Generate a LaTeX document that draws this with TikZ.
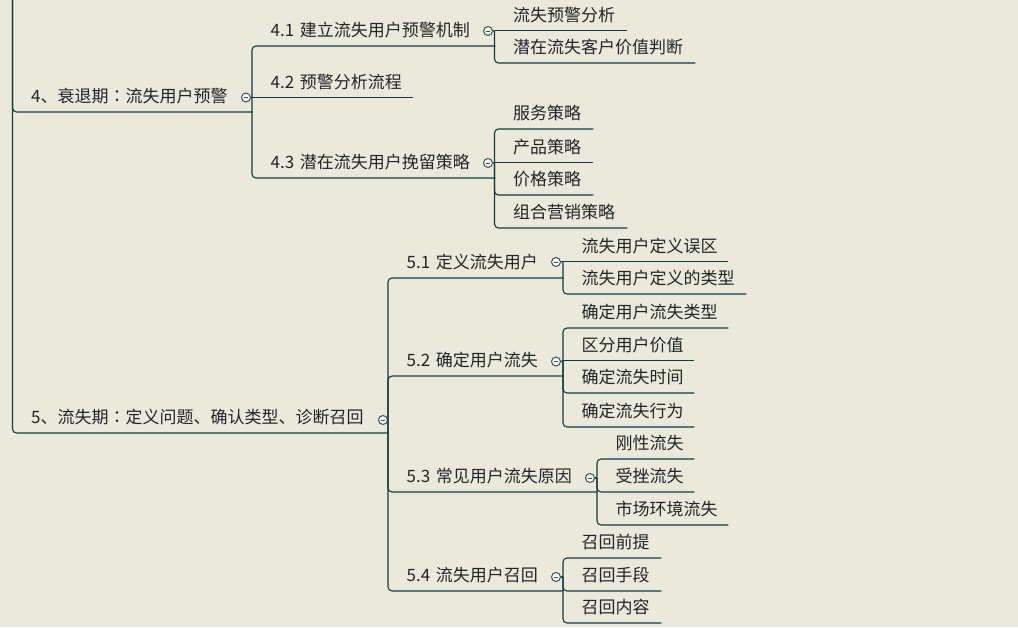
\documentclass[tikz,border=0pt]{standalone}
\usepackage{fontspec}
\setmainfont{Noto Sans CJK SC}
\newfontfamily\colonfont{Noto Sans CJK JP}
\newcommand{\fwcolon}{{\colonfont ：}}
\usetikzlibrary{calc}

\definecolor{paper}{HTML}{EBE8DC}
\definecolor{branch}{HTML}{123C3C}
\definecolor{ink}{HTML}{1F2626}
\definecolor{foldgray}{HTML}{3E5454}

\begin{document}
\begin{tikzpicture}[x=1pt, y=-1pt,
        topic/.style={anchor=south west, inner xsep=0pt, inner ysep=9.2pt, text depth=0pt,
            align=left, text=ink, font=\fontsize{17}{20}\selectfont,
            execute at begin node={\hspace*{18.5pt}}},
        link/.style={draw=branch, line width=1.1pt, rounded corners=4pt},
        fold/.style={circle, draw=foldgray, fill=paper!40!white, line width=1pt,
            minimum size=9pt, inner sep=0pt,
            path picture={\draw[foldgray, line width=1pt]
                ([xshift=2.2pt]path picture bounding box.west) --
                ([xshift=-2.2pt]path picture bounding box.east);}}]

    \fill[paper] (0,0) rectangle (1018,627);
    \useasboundingbox (0,0) rectangle (1018,627);
    \clip (0,0) rectangle (1018,627);

    % stage 4
    \node[topic, text width=239.5pt] (t4) at (12.5,112) {4、衰退期\fwcolon 流失用户预警};
    \node[topic, text width=243pt] (t41) at (252,46) {4.1 建立流失用户预警机制};
    \node[topic, text width=161pt] (t42) at (252,97.5) {4.2 预警分析流程};
    \node[topic, text width=243pt] (t43) at (252,178) {4.3 潜在流失用户挽留策略};

    \node[topic, text width=132.5pt] (t411) at (494.5,30.5) {流失预警分析};
    \node[topic, text width=200.5pt] (t412) at (494.5,63) {潜在流失客户价值判断};

    \node[topic, text width=98.5pt] (t431) at (494.5,129) {服务策略};
    \node[topic, text width=98.5pt] (t432) at (494.5,162.5) {产品策略};
    \node[topic, text width=98.5pt] (t433) at (494.5,195) {价格策略};
    \node[topic, text width=132.5pt] (t434) at (494.5,228) {组合营销策略};

    % stage 5
    \node[topic, text width=375.5pt] (t5) at (12.5,433) {5、流失期\fwcolon 定义问题、确认类型、诊断召回};
    \node[topic, text width=175pt] (t51) at (388,278) {5.1 定义流失用户};
    \node[topic, text width=175pt] (t52) at (388,376) {5.2 确定用户流失};
    \node[topic, text width=209pt] (t53) at (388,492) {5.3 常见用户流失原因};
    \node[topic, text width=175pt] (t54) at (388,591) {5.4 流失用户召回};

    \node[topic, text width=165pt] (t511) at (563,261.5) {流失用户定义误区};
    \node[topic, text width=183pt] (t512) at (563,294) {流失用户定义的类型};

    \node[topic, text width=165pt] (t521) at (563,328) {确定用户流失类型};
    \node[topic, text width=131pt] (t522) at (563,360.5) {区分用户价值};
    \node[topic, text width=131pt] (t523) at (563,393) {确定流失时间};
    \node[topic, text width=131pt] (t524) at (563,427) {确定流失行为};

    \node[topic, text width=97pt] (t531) at (597,459) {刚性流失};
    \node[topic, text width=97pt] (t532) at (597,492) {受挫流失};
    \node[topic, text width=131pt] (t533) at (597,525) {市场环境流失};

    \node[topic, text width=98pt] (t541) at (563,558) {召回前提};
    \node[topic, text width=98pt] (t542) at (563,591) {召回手段};
    \node[topic, text width=98pt] (t543) at (563,623) {召回内容};

    % fold markers
    \node[fold] (f4) at (246,97.5) {};
    \node[fold] (f41) at (488,31) {};
    \node[fold] (f43) at (488,163) {};
    \node[fold] (f5) at (383,420) {};
    \node[fold] (f51) at (556,262) {};
    \node[fold] (f52) at (556,361.5) {};
    \node[fold] (f53) at (590,478) {};
    \node[fold] (f54) at (556,577) {};

    % junctions: level children start right there
    \coordinate (j0) at (12.5,-40);
    \coordinate (j4) at (t42.south west);
    \coordinate (j41) at (t411.south west);
    \coordinate (j43) at (t432.south west);
    \coordinate (j5) at (f5 -| t51.south west);
    \coordinate (j51) at (t511.south west);
    \coordinate (j52) at (t522.south west);
    \coordinate (j53) at (f53 -| t531.south west);
    \coordinate (j54) at (f54 -| t541.south west);

    % branches
    \draw[link] (j0) |- (t4.south east);
    \draw[link] (j0) |- (t5.south east);

    \foreach \f/\j in {f4/j4, f41/j41, f43/j43, f5/j5, f51/j51, f52/j52, f53/j53, f54/j54}
        \draw[link] (\f.east) -- (\j);

    \foreach \j/\c in {j4/t41, j4/t43, j41/t412, j43/t431, j43/t433, j43/t434,
            j5/t51, j5/t52, j5/t53, j5/t54, j51/t512,
            j52/t521, j52/t523, j52/t524, j53/t531, j53/t532, j53/t533,
            j54/t541, j54/t542, j54/t543}
        \draw[link] (\j) |- (\c.south east);

    \foreach \c in {t42, t411, t432, t511, t522}
        \draw[link] (\c.south west) -- (\c.south east);
\end{tikzpicture}
\end{document}
